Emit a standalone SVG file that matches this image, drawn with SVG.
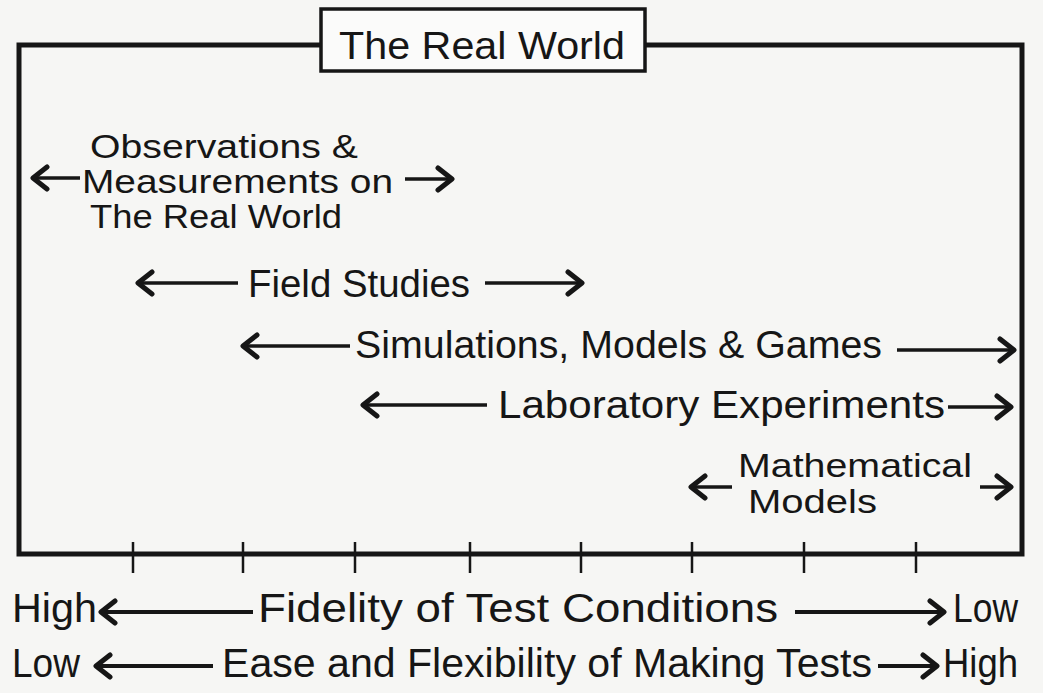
<svg xmlns="http://www.w3.org/2000/svg" width="1043" height="693" viewBox="0 0 1043 693">
  <style>
    .t { font-family: "Liberation Sans", "DejaVu Sans", sans-serif; font-size: 38px; fill: #161616; }
    .s { font-size: 33px; }
    .b { font-size: 40px; }
    .frame { fill: none; stroke: #161616; stroke-width: 5; stroke-linejoin: miter; }
    .tick { stroke: #161616; stroke-width: 2.5; }
    .arr { stroke: #161616; stroke-width: 3.5; fill: none; marker-end: url(#head); }
    .arrb { stroke: #161616; stroke-width: 4; fill: none; marker-end: url(#head); }
  </style>
  <defs>
    <marker id="head" viewBox="-18 -14 21 28" refX="0" refY="0" markerUnits="userSpaceOnUse" markerWidth="21" markerHeight="28" orient="auto">
      <path d="M-14,-11 L0,0 L-14,11" fill="none" stroke="#161616" stroke-width="5" stroke-linecap="round" stroke-linejoin="round"/>
    </marker>
  </defs>
  <rect width="1043" height="693" fill="#f6f6f4"/>

  <g id="frame">
    <path class="frame" d="M321,45 L19,45 L19,554 L1022,554 L1022,45 L645,45"/>
    <g class="tick">
      <line x1="133" y1="542" x2="133" y2="573"/>
      <line x1="243" y1="542" x2="243" y2="573"/>
      <line x1="355" y1="542" x2="355" y2="573"/>
      <line x1="470" y1="542" x2="470" y2="573"/>
      <line x1="581" y1="542" x2="581" y2="573"/>
      <line x1="692" y1="542" x2="692" y2="573"/>
      <line x1="804" y1="542" x2="804" y2="573"/>
      <line x1="916" y1="542" x2="916" y2="573"/>
    </g>
  </g>

  <g id="title">
    <rect x="321" y="9" width="324" height="62" fill="#fbfbfa" stroke="#161616" stroke-width="3.5"/>
    <text class="t" x="339" y="59" font-size="45" textLength="286" lengthAdjust="spacingAndGlyphs">The Real World</text>
  </g>

  <g id="observations">
    <text class="t s" x="90" y="158" textLength="268" lengthAdjust="spacingAndGlyphs">Observations &amp;</text>
    <text class="t s" x="82" y="193" textLength="311" lengthAdjust="spacingAndGlyphs">Measurements on</text>
    <text class="t s" x="90" y="228" textLength="252" lengthAdjust="spacingAndGlyphs">The Real World</text>
  </g>

  <g id="field-studies">
    <text class="t" x="248" y="297" textLength="222" lengthAdjust="spacingAndGlyphs">Field Studies</text>
  </g>

  <g id="simulations">
    <text class="t" x="355" y="358" textLength="527" lengthAdjust="spacingAndGlyphs">Simulations, Models &amp; Games</text>
  </g>

  <g id="laboratory">
    <text class="t" x="498" y="418" textLength="447" lengthAdjust="spacingAndGlyphs">Laboratory Experiments</text>
  </g>

  <g id="mathematical">
    <text class="t s" x="738" y="477" textLength="234" lengthAdjust="spacingAndGlyphs">Mathematical</text>
    <text class="t s" x="748" y="513" textLength="129" lengthAdjust="spacingAndGlyphs">Models</text>
  </g>

  <g id="fidelity">
    <text class="t b" x="12" y="622" textLength="85" lengthAdjust="spacingAndGlyphs">High</text>
    <text class="t b" x="258" y="622" textLength="520" lengthAdjust="spacingAndGlyphs">Fidelity of Test Conditions</text>
    <text class="t b" x="953" y="622" textLength="65" lengthAdjust="spacingAndGlyphs">Low</text>
  </g>

  <g id="ease">
    <text class="t b" x="12" y="677" textLength="68" lengthAdjust="spacingAndGlyphs">Low</text>
    <text class="t b" x="222" y="677" textLength="650" lengthAdjust="spacingAndGlyphs">Ease and Flexibility of Making Tests</text>
    <text class="t b" x="943" y="677" textLength="75" lengthAdjust="spacingAndGlyphs">High</text>
  </g>

  <g id="connectors">
    <line class="arr" x1="80" y1="178" x2="33" y2="178"/>
    <line class="arr" x1="405" y1="179" x2="452" y2="179"/>
    <line class="arr" x1="238" y1="283" x2="138" y2="283"/>
    <line class="arr" x1="485" y1="283" x2="582" y2="283"/>
    <line class="arr" x1="350" y1="346" x2="243" y2="346"/>
    <line class="arr" x1="897" y1="350" x2="1014" y2="350"/>
    <line class="arr" x1="487" y1="405" x2="363" y2="405"/>
    <line class="arr" x1="948" y1="407" x2="1011" y2="407"/>
    <line class="arr" x1="732" y1="487" x2="691" y2="487"/>
    <line class="arr" x1="980" y1="487" x2="1011" y2="487"/>
    <line class="arrb" x1="253" y1="612" x2="101" y2="612"/>
    <line class="arrb" x1="795" y1="612" x2="944" y2="612"/>
    <line class="arrb" x1="213" y1="666" x2="96" y2="666"/>
    <line class="arrb" x1="878" y1="666" x2="937" y2="666"/>
  </g>
</svg>
